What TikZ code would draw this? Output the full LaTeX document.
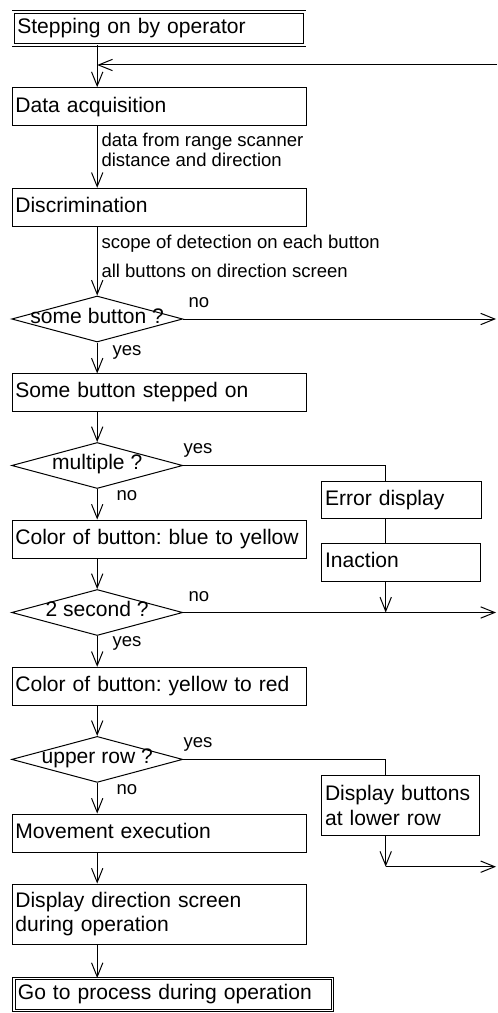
\documentclass[tikz,border=0pt]{standalone}
\usepackage{fontspec}
\setmainfont{Liberation Sans}
\usetikzlibrary{shapes.geometric,arrows.meta}
\newcommand{\mfont}{\fontsize{15.8pt}{18pt}\selectfont}
\newcommand{\lfont}{\fontsize{13.9pt}{15pt}\selectfont}
\frenchspacing
\begin{document}
\frenchspacing
\begin{tikzpicture}[x=0.75pt,y=-0.75pt,
  line width=0.75pt,
  arr/.style={-{Straight Barb[length=10.5pt,width=8.5pt]}},
  box/.style={draw, rectangle, inner xsep=2.5pt, inner ysep=0pt, text width=#1, align=left, font=\mfont},
  one/.style={text height=11.5pt, text depth=3.5pt},
  dbox/.style={draw, rectangle, double, double distance=1.3pt, line width=0.65pt, inner xsep=3pt, inner ysep=0pt, text width=#1, align=left, font=\mfont, text height=11.5pt, text depth=3.5pt},
  dia/.style={draw, diamond, inner sep=0pt, minimum width=128.25pt, minimum height=34.5pt, font=\mfont, text height=10.5pt, text depth=4.5pt},
  lab/.style={anchor=base west, inner sep=0pt, font=\lfont}]
\useasboundingbox (0,0) rectangle (497,1013);
\coordinate (mx) at (97.2,0);
\coordinate (col) at (385.7,0);
% main column
\node[dbox=212.5pt, minimum height=24.75pt] (start) at (159,28.35) {Stepping on by operator};
\node[box=215.5pt, one, minimum height=28.5pt] (acq) at (159,106.7) {Data acquisition};
\node[box=215.5pt, one, minimum height=28.3pt] (disc) at (159,207.2) {Discrimination};
\node[dia] (d1) at (97.2,319) {\makebox[0pt]{some button ?}};
\node[box=215.5pt, one, minimum height=27.8pt] (some) at (159,392.5) {Some button stepped on};
\node[dia] (d2) at (97.2,465.5) {\makebox[0pt]{multiple ?}};
\node[box=215.5pt, one, minimum height=28.7pt] (blue) at (159,539.2) {Color of button: blue to yellow};
\node[dia] (d3) at (97.2,612.5) {\makebox[0pt]{2 second ?}};
\node[box=215.5pt, one, minimum height=28.3pt] (red) at (159,686.2) {Color of button: yellow to red};
\node[dia] (d4) at (97.2,759.4) {\makebox[0pt]{upper row ?}};
\node[box=215.5pt, one, minimum height=28.7pt] (move) at (159,833.2) {Movement execution};
\node[box=215.5pt, minimum height=45.2pt] (disp) at (159,914.2) {Display direction screen\\during operation};
\node[dbox=233pt, minimum height=24pt] (end) at (173.2,994.5) {Go to process during operation};
% side column
\node[box=115.2pt, one, minimum height=28pt] (err) at (401.8,500.3) {Error display};
\node[box=113.7pt, one, minimum height=28.8pt] (inact) at (400.9,562.5) {Inaction};
\node[box=113.2pt, minimum height=45.2pt, font=\fontsize{15.8pt}{18.75pt}\selectfont] (dbtn) at (400.5,805.8) {Display buttons\\at lower row};
% labels
\node[lab] (l1) at (101,146.7) {data from range scanner};
\node[lab] (l2) at (101,166.7) {distance and direction};
\node[lab] (l3) at (101,248.3) {scope of detection on each button};
\node[lab] (l4) at (101,277.7) {all buttons on direction screen};
\node[lab] (n1) at (188,307) {no};
\node[lab] (y1) at (112,355) {yes};
\node[lab] (y2) at (183,453.3) {yes};
\node[lab] (n2) at (116,500.7) {no};
\node[lab] (n3) at (188,601.7) {no};
\node[lab] (y3) at (112,646.7) {yes};
\node[lab] (y4) at (183,747.7) {yes};
\node[lab] (n4) at (116,794) {no};
% free ends
\coordinate (fbR) at (497,65);
\coordinate (r1) at (496,319);
\coordinate (r2) at (496,612.5);
\coordinate (c3) at (385.7,866.7);
\coordinate (r3) at (496,866.7);
% connectors
\draw[arr] (start.south -| mx) -- (acq.north -| mx);
\draw[arr] (fbR) -- (fbR -| mx);
\draw[arr] (acq.south -| mx) -- (disc.north -| mx);
\draw[arr] (disc.south -| mx) -- (d1.north);
\draw[arr] (d1.east) -- (r1);
\draw[arr] (d1.south) -- (some.north -| mx);
\draw[arr] (some.south -| mx) -- (d2.north);
\draw (d2.east) -| (err.north -| col);
\draw (err.south -| col) -- (inact.north -| col);
\draw[arr] (inact.south -| col) -- (d3.east -| col);
\draw[arr] (d2.south) -- (blue.north -| mx);
\draw[arr] (blue.south -| mx) -- (d3.north);
\draw[arr] (d3.east) -- (r2);
\draw[arr] (d3.south) -- (red.north -| mx);
\draw[arr] (red.south -| mx) -- (d4.north);
\draw (d4.east) -| (dbtn.north -| col);
\draw[arr] (d4.south) -- (move.north -| mx);
\draw[arr] (dbtn.south -| col) -- (c3);
\draw[arr] (c3) -- (r3);
\draw[arr] (move.south -| mx) -- (disp.north -| mx);
\draw[arr] (disp.south -| mx) -- (end.north -| mx);
\end{tikzpicture}
\end{document}
